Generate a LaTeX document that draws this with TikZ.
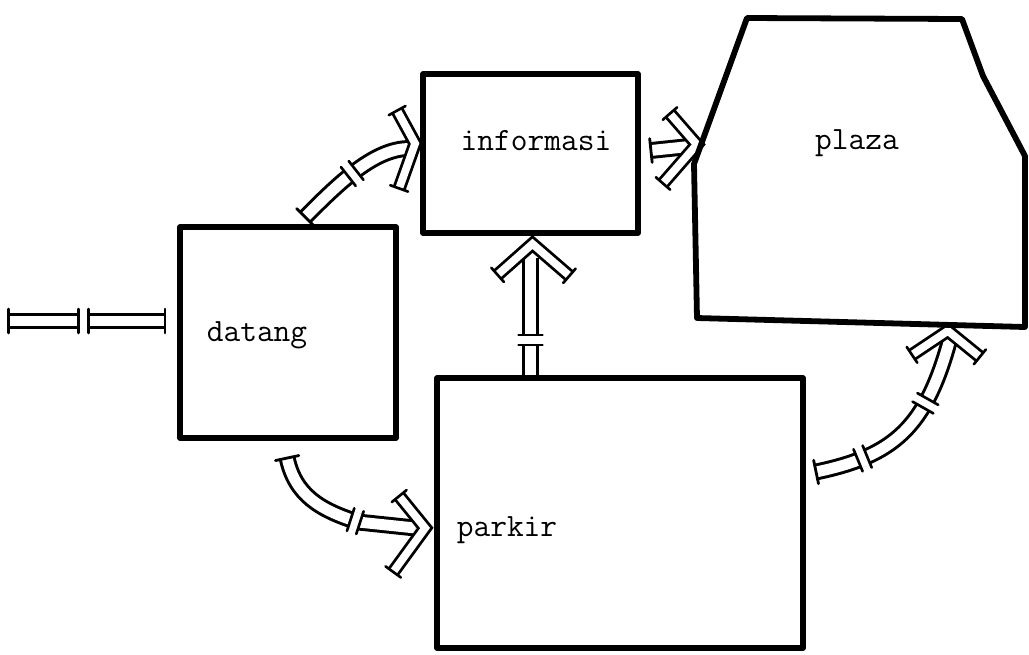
\documentclass[tikz,border=0pt]{standalone}
\usepackage{fontspec}
\usetikzlibrary{calc,decorations.markings,backgrounds}
\newcommand\tubetick{\draw[line width=1.6pt,line cap=round] (0pt,-6.8pt) -- (0pt,6.8pt);}
\newcommand\tubebreak{\fill[white] (-2.8pt,-5pt) rectangle (2.8pt,5pt);
  \draw[line width=1.5pt,line cap=round] (-2.8pt,-6.8pt) -- (-2.8pt,6.8pt) (2.8pt,-6.8pt) -- (2.8pt,6.8pt);}
\newcommand\armtick{\draw[line width=1.5pt,line cap=round] (0pt,-5.4pt) -- (0pt,5.4pt);}
\tikzset{
  box/.style={draw, line width=3.3pt, rectangle, inner sep=0pt, line join=round},
  outline/.style={draw, line width=3.3pt, line join=round},
  tube/.style={draw, line width=1.7pt, double=white, double distance=6.2pt},
  vhead/.style={draw, line width=1.6pt, double=white, double distance=4.4pt, line join=miter,
     postaction={decorate, decoration={markings,
        mark=at position 0.001 with {\armtick},
        mark=at position 0.999 with {\armtick}}}},
  lbl/.style={font=\ttfamily\fontsize{18.5}{22}\selectfont, inner sep=0pt},
}
\begin{document}
\begin{tikzpicture}[x=0.02cm, y=-0.02cm]
\useasboundingbox (0,0) rectangle (1029,654);
% boxes
\node[box, minimum width=4.32cm, minimum height=4.22cm] (datang) at (288,332.5) {};
\node[box, minimum width=4.30cm, minimum height=3.18cm] (informasi) at (530.5,153.5) {};
\node[box, minimum width=7.32cm, minimum height=5.40cm] (parkir) at (620,513) {};
% plaza outline
\coordinate (pl1) at (747,18);
\coordinate (pl2) at (962,19);
\coordinate (pl3) at (983,76);
\coordinate (pl4) at (1025,156);
\coordinate (pl5) at (1025,327);
\coordinate (pl6) at (697,318);
\coordinate (pl7) at (694,164);
\draw[outline] (pl1) -- (pl2) -- (pl3) -- (pl4) -- (pl5) -- (pl6) -- (pl7) -- cycle;
% labels
\node[lbl] (datangtxt) at (257,335) {datang};
\node[lbl] (informasitxt) at (536,141) {informasi};
\node[lbl] (plaza) at (857,143) {plaza};
\node[lbl] (parkirtxt) at (507,530) {parkir};
% arrows
\begin{pgfonlayer}{background}
 % entry
 \coordinate (in) at (8,321);
 \draw[tube, postaction={decorate, decoration={markings,
    mark=at position 0.001 with {\tubetick},
    mark=at position 0.48 with {\tubebreak},
    mark=at position 0.999 with {\tubetick}}}]
   (in) -- ($(datang.west)+(-12,-11.5)$);
 % datang -> informasi
 \coordinate (a2s) at ($(datang.north west)+(128,-7)$);
 \coordinate (a2e) at ($(informasi.west)+(-10,-5)$);
 \draw[tube, postaction={decorate, decoration={markings,
    mark=at position 0.001 with {\tubetick},
    mark=at position 0.5 with {\tubebreak}}}]
   (a2s) .. controls (340,182) and (375,148) .. (a2e);
 \coordinate (a2t) at ($(informasi.west)+(-5,-10)$);
 \draw[vhead] ($(a2t)+(-18,-33)$) -- (a2t) -- ($(a2t)+(-16,45)$);
 % informasi -> plaza
 \coordinate (a3s) at ($(informasi.east)+(10,-3)$);
 \coordinate (a3t) at ($(informasi.east)+(56,-9)$);
 \draw[tube, postaction={decorate, decoration={markings,
    mark=at position 0.001 with {\tubetick}}}]
   (a3s) -- ($(a3t)+(-8,2)$);
 \draw[vhead] ($(a3t)+(-27,-31)$) -- (a3t) -- ($(a3t)+(-34,39)$);
 % parkir -> informasi
 \coordinate (a4s) at (informasi.south |- parkir.north);
 \coordinate (a4t) at ($(informasi.south)+(2,8)$);
 \draw[tube, postaction={decorate, decoration={markings,
    mark=at position 0.3 with {\tubebreak}}}]
   (a4s) -- ($(a4t)+(-2,14)$);
 \draw[vhead] ($(a4t)+(-35,31)$) -- (a4t) -- ($(a4t)+(37,32)$);
 % datang -> parkir
 \coordinate (a5s) at ($(datang.south west)+(110,17)$);
 \coordinate (a5t) at ($(parkir.west)+(-9,15)$);
 \draw[tube, postaction={decorate, decoration={markings,
    mark=at position 0.001 with {\tubetick},
    mark=at position 0.62 with {\tubebreak}}}]
   (a5s) .. controls (295,495) and (320,510) .. (358,522) -- ($(a5t)+(-10,0)$);
 \draw[vhead] ($(a5t)+(-26,-32)$) -- (a5t) -- ($(a5t)+(-32,44)$);
 % parkir -> plaza
 \coordinate (a6s) at ($(parkir.east)+(10,-41)$);
 \coordinate (plazaB) at ($(pl6)!0.765!(pl5)$);
 \coordinate (a6t) at ($(plazaB)+(0,6)$);
 \draw[tube, postaction={decorate, decoration={markings,
    mark=at position 0.001 with {\tubetick},
    mark=at position 0.24 with {\tubebreak},
    mark=at position 0.66 with {\tubebreak}}}]
   (a6s) .. controls (893,456) and (926,428) .. ($(a6t)+(2,8)$);
 \draw[vhead] ($(a6t)+(-36,24)$) -- (a6t) -- ($(a6t)+(32,26)$);
\end{pgfonlayer}
\end{tikzpicture}
\end{document}
